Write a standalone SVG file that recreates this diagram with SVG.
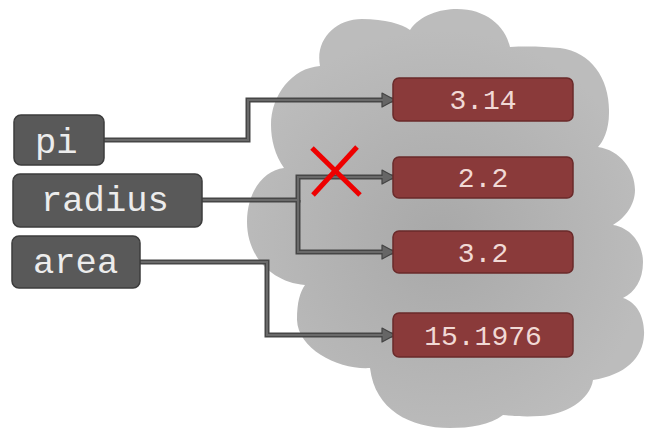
<svg xmlns="http://www.w3.org/2000/svg" width="652" height="438" viewBox="0 0 652 438">
  <defs>
    <radialGradient id="cloudGrad" gradientUnits="userSpaceOnUse" cx="440" cy="240" r="210">
      <stop offset="0" stop-color="#a8a8a8"/>
      <stop offset="1" stop-color="#bcbcbc"/>
    </radialGradient>
    <marker id="arrow" markerUnits="userSpaceOnUse" markerWidth="16" markerHeight="16" refX="13" refY="7" orient="auto" viewBox="-1 -1 16 16">
      <path d="M0,0 L13,7 L0,14 Z" fill="#666666" stroke="#444444" stroke-width="1.2" stroke-linejoin="round"/>
    </marker>
    <style>
      .var rect { fill: #595959; stroke: #3c3c3c; stroke-width: 1.5; }
      .var text { font-family: "Liberation Mono", "DejaVu Sans Mono", monospace; font-size: 35.5px; fill: #ececec; }
      .val rect { fill: #8a3a3a; stroke: #6a2a2a; stroke-width: 1.5; }
      .val text { font-family: "Liberation Mono", "DejaVu Sans Mono", monospace; font-size: 28px; fill: #f1d9d5; text-anchor: middle; }
      .wire-o { fill: none; stroke: #464646; stroke-width: 5; stroke-linejoin: miter; }
      .wire-i { fill: none; stroke: #6a6a6a; stroke-width: 2; stroke-linejoin: miter; }
      .cross { stroke: #ee0000; stroke-width: 5; stroke-linecap: butt; }
    </style>
  </defs>
  <rect width="652" height="438" fill="#ffffff"/>

  <g id="cloud">
    <path fill="url(#cloudGrad)" d="M320,66
      C315,40 335,19 362,19 C385,19 402,24 410,30
      C420,15 440,9 457,9 C485,9 505,25 510,47
      C530,46 545,47 560,48 C592,52 610,80 609,113 C609,130 603,142 598,147
      C620,150 635,170 635,190 C635,205 625,218 613,225
      C632,228 643,245 643,262 C643,280 635,292 623,298
      C637,302 645,318 644,335 C643,358 625,375 593,380
      C590,400 565,415 540,416 C525,417 512,416 503,415
      C490,425 470,428 450,428 C410,428 375,410 370,368
      C340,370 298,350 297,320 C297,302 300,292 305,285
      C270,282 247,255 247,222 C247,190 265,170 284,168
      C275,155 271,140 271,125 C271,95 292,68 320,66 Z"/>
  </g>

  <g id="connectors">
    <path class="wire-o" d="M104,140 H248 V100 H395" marker-end="url(#arrow)"/>
    <path class="wire-i" d="M104,140 H248 V100 H383"/>
    <path class="wire-o" d="M202,200 H298 V177 H395" marker-end="url(#arrow)"/>
    <path class="wire-o" d="M298,200 V252 H395" marker-end="url(#arrow)"/>
    <path class="wire-i" d="M202,200 H298 V177 H383 M298,200 V252 H383"/>
    <path class="wire-o" d="M140,262 H267 V335 H395" marker-end="url(#arrow)"/>
    <path class="wire-i" d="M140,262 H267 V335 H383"/>
  </g>

  <g id="var-pi" class="var">
    <rect x="14" y="115" width="90" height="50" rx="7"/>
    <text x="35" y="153">pi</text>
  </g>
  <g id="var-radius" class="var">
    <rect x="13" y="174" width="189" height="53" rx="7"/>
    <text x="41" y="211">radius</text>
  </g>
  <g id="var-area" class="var">
    <rect x="12" y="236" width="128" height="52" rx="7"/>
    <text x="33" y="273">area</text>
  </g>

  <g id="val-314" class="val">
    <rect x="393" y="78" width="180" height="43" rx="6"/>
    <text x="483" y="109">3.14</text>
  </g>
  <g id="val-22" class="val">
    <rect x="393" y="157" width="180" height="41" rx="6"/>
    <text x="483" y="187">2.2</text>
  </g>
  <g id="val-32" class="val">
    <rect x="393" y="231" width="180" height="42" rx="6"/>
    <text x="483" y="262">3.2</text>
  </g>
  <g id="val-151976" class="val">
    <rect x="393" y="313" width="180" height="44" rx="6"/>
    <text x="483" y="345">15.1976</text>
  </g>

  <g id="cross">
    <line class="cross" x1="312" y1="148" x2="360" y2="195"/>
    <line class="cross" x1="357" y1="147" x2="313" y2="195"/>
  </g>
</svg>
